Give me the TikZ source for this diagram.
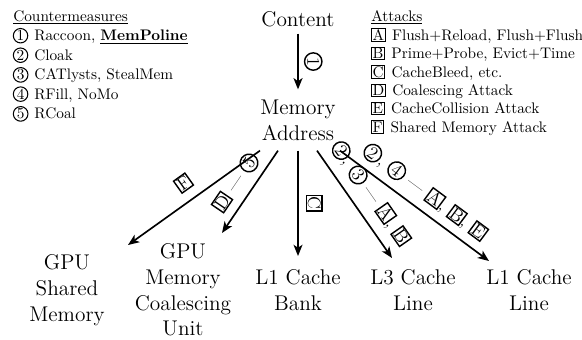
\documentclass[tikz,border=0pt]{standalone}
\usepackage{fontspec}
\usetikzlibrary{arrows.meta,calc}
\newcommand\cnum[1]{\tikz[baseline=(cc.base)]\node[draw,circle,inner sep=.4pt,line width=.7pt,anchor=center](cc){#1};}
\newcommand\bnum[1]{\tikz[baseline=(bb.base)]\node[draw,rectangle,inner sep=.6pt,line width=.7pt,anchor=center](bb){#1};}
\newcommand\lcnum[1]{\tikz[baseline=(lc.base)]\node[draw,circle,inner sep=.6pt,line width=.95pt,anchor=center](lc){#1};}
\newcommand\lbnum[1]{\tikz[baseline=(lb.base)]\node[draw,rectangle,inner sep=.8pt,line width=.95pt,anchor=center](lb){#1};}
\begin{document}
\begin{tikzpicture}[x=0.6667pt,y=-0.6667pt,
  main/.style={font=\fontsize{14.2pt}{17.2pt}\selectfont, align=center, inner xsep=1.5pt, inner ysep=6.7pt},
  leg/.style={font=\fontsize{10.2pt}{12.6pt}\selectfont, inner sep=0pt, anchor=base west},
  arr/.style={-{Stealth[length=7.5pt,width=6pt,inset=2pt]}, line width=1.1pt},
  lab/.style={sloped, inner sep=0pt, pos=.5, font=\fontsize{12pt}{14pt}\selectfont}]
\useasboundingbox (0,0) rectangle (582,339);

% countermeasures legend
\node[leg] (cmt) at (13,21) {\underline{Countermeasures}};
\node[leg] (cm1) at (12.5,40.8) {\cnum{1}\hspace{4pt}Raccoon, \underline{\textbf{MemPoline}}};
\node[leg] (cm2) at (12.5,60.3) {\cnum{2}\hspace{4pt}Cloak};
\node[leg] (cm3) at (12.5,79.8) {\cnum{3}\hspace{4pt}CATlysts, StealMem};
\node[leg] (cm4) at (12.5,99.3) {\cnum{4}\hspace{4pt}RFill, NoMo};
\node[leg] (cm5) at (12.5,118.8) {\cnum{5}\hspace{4pt}RCoal};

% attacks legend
\node[leg] (att) at (371,21) {\underline{Attacks}};
\node[leg] (atA) at (371,40.2) {\bnum{A}\hspace{4.3pt}Flush+Reload, Flush+Flush};
\node[leg] (atB) at (371,58.6) {\bnum{B}\hspace{4.3pt}Prime+Probe, Evict+Time};
\node[leg] (atC) at (371,77.0) {\bnum{C}\hspace{4.3pt}CacheBleed, etc.};
\node[leg] (atD) at (371,95.4) {\bnum{D}\hspace{4.3pt}Coalescing Attack};
\node[leg] (atE) at (371,113.8) {\bnum{E}\hspace{4.3pt}CacheCollision Attack};
\node[leg] (atF) at (371,132.2) {\bnum{F}\hspace{4.3pt}Shared Memory Attack};

% main nodes
\node[main, anchor=base, inner ysep=4.6pt] (content) at (298,26) {Content};
\node[main] (ma) at (298,120) {Memory\\Address};
\node[main] (gsm) at (67,290) {GPU\\Shared\\Memory};
\node[main] (cmu) at (183,290) {GPU\\Memory\\Coalescing\\Unit};
\node[main] (l1b) at (298,290) {L1 Cache\\Bank};
\node[main] (l3l) at (413,290) {L3 Cache\\Line};
\node[main] (l1l) at (529,290) {L1 Cache\\Line};

% connectors
\draw[arr] (content) -- (ma)
  node[lab, above=3.7pt] (lab1) {\lcnum{1}};
\draw[arr] ($(ma.south)+(-38,0)$) -- ($(gsm.center)+(61,-45)$)
  node[lab, above=6.5pt] (labF) {\lbnum{F}};
\draw[arr] ($(ma.south)+(-20,0)$) -- ($(cmu.center)+(39,-57)$)
  node[lab, above=4.8pt] (labD) {\lbnum{D} --- \lcnum{5}};
\draw[arr] (ma.south) -- ($(l1b.center)+(0,-34)$)
  node[lab, above=5.1pt] (labC) {\lbnum{C}};
\draw[arr] ($(ma.south)+(19,0)$) -- ($(l3l.center)+(-21,-32)$)
  node[lab, above=6.6pt] (labL3) {\lcnum{2}, \lcnum{3} --- \lbnum{A}, \lbnum{B}};
\draw[arr] ($(ma.south)+(42,0)$) -- ($(l1l.center)+(-40,-29)$)
  node[lab, above=5.2pt] (labL1) {\lcnum{2}, \lcnum{4} --- \lbnum{A}, \lbnum{B}, \lbnum{E}};
\end{tikzpicture}
\end{document}
